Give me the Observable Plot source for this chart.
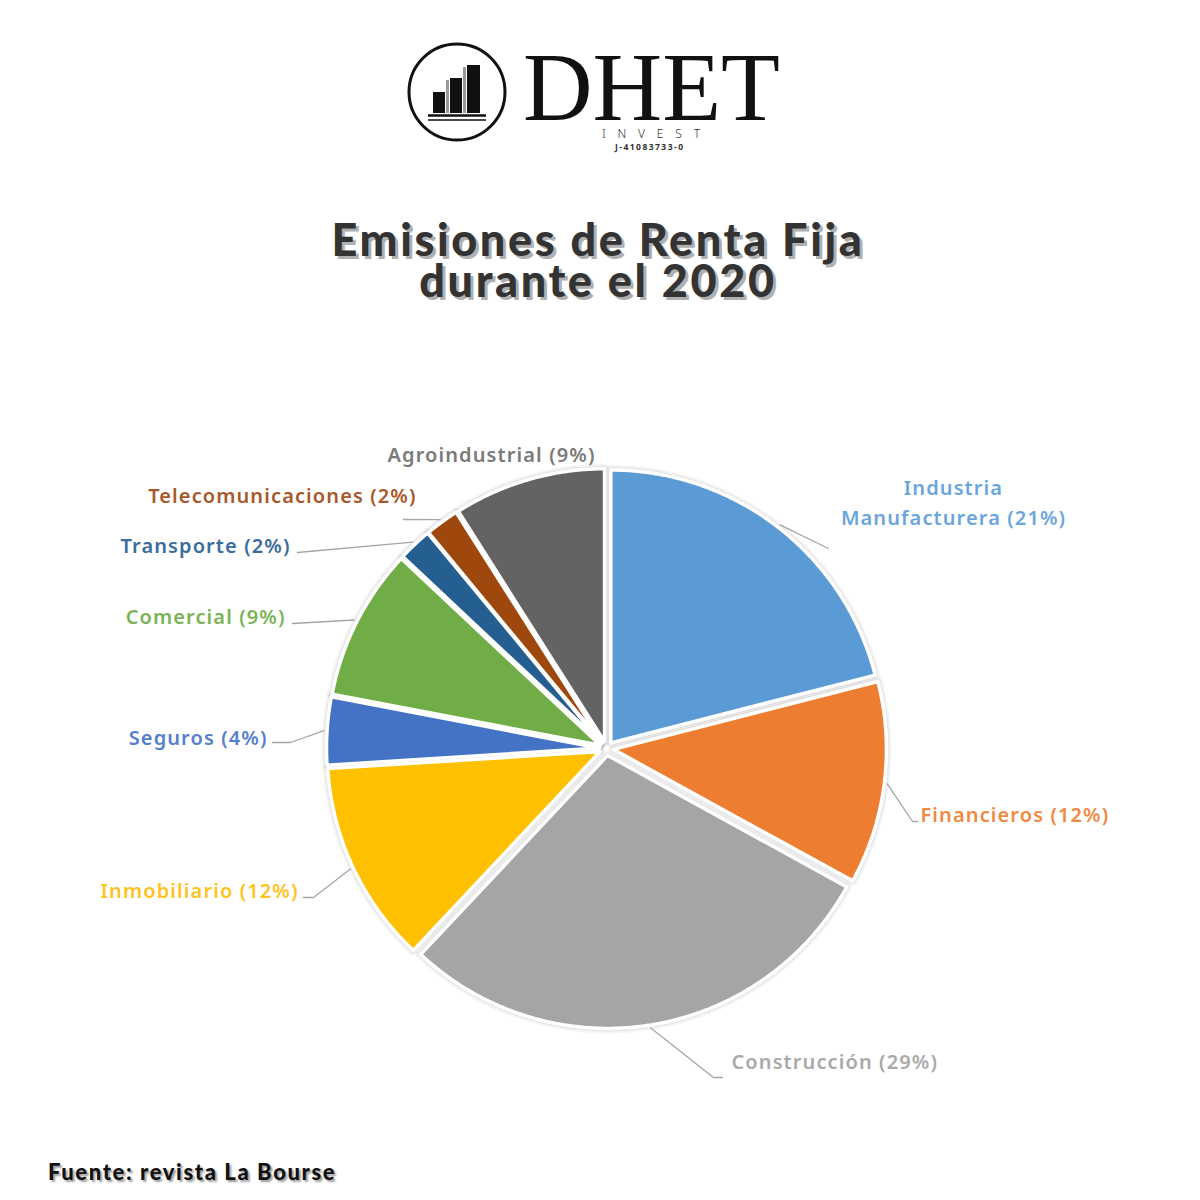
<!DOCTYPE html>
<html><head><meta charset="utf-8">
<script src="https://cdn.jsdelivr.net/npm/d3@7"></script>
<script src="https://cdn.jsdelivr.net/npm/@observablehq/plot@0.6"></script>
<style>
body{margin:0;background:#fff;}
#wrap{position:relative;width:1200px;height:1200px;overflow:hidden;background:#fff;}
#chart{position:absolute;left:0;top:0;}
#chart text{letter-spacing:1.1px;}
#logo{position:absolute;left:0;top:0;}
.title{position:absolute;left:0;width:1196px;top:219px;text-align:center;font-family:Lato;font-weight:900;font-size:45px;line-height:41px;letter-spacing:2.6px;color:#333;text-shadow:3px 3px 0 #b0b0b0;}
.foot{position:absolute;left:48px;top:1158px;font-family:Lato;font-weight:900;font-size:22px;letter-spacing:1.6px;color:#111;text-shadow:2px 2px 2px #9a9a9a;}
</style></head>
<body><div id="wrap">
<svg id="logo" width="1200" height="170">
  <circle cx="457" cy="92" r="48" fill="none" stroke="#111" stroke-width="3"/>
  <rect x="433" y="92" width="12" height="21" fill="#111"/>
  <rect x="446" y="80" width="3" height="33" fill="#9a9a9a"/>
  <rect x="450" y="78" width="12" height="35" fill="#111"/>
  <rect x="463" y="67" width="3" height="46" fill="#9a9a9a"/>
  <rect x="467" y="65" width="13" height="48" fill="#111"/>
  <line x1="428" x2="486" y1="115.5" y2="115.5" stroke="#111" stroke-width="2.5"/>
  <line x1="428" x2="486" y1="120" y2="120" stroke="#111" stroke-width="1.5"/>
  <text x="523" y="120" font-family="Liberation Serif" font-size="98" textLength="257" lengthAdjust="spacingAndGlyphs" fill="#111">DHET</text>
  <text x="651" y="138" text-anchor="middle" font-family="Noto Sans" font-weight="300" font-size="12" textLength="98" lengthAdjust="spacing" fill="#333">INVEST</text>
  <text x="649" y="150" text-anchor="middle" font-family="Noto Sans" font-weight="700" font-size="8.5" textLength="68" fill="#333">J-41083733-0</text>
</svg>
<div class="title">Emisiones de Renta Fija<br>durante el 2020</div>
<div id="chart"></div>
<div class="foot">Fuente: revista La Bourse</div>
</div>
<script>
// ---- data ----
const categories = ["Industria Manufacturera","Financieros","Construcción","Inmobiliario","Seguros","Comercial","Transporte","Telecomunicaciones","Agroindustrial"];
const shares = [21, 12, 29, 12, 4, 9, 2, 2, 9];
const labelTexts = ["Industria\nManufacturera (21%)","Financieros (12%)","Construcción (29%)","Inmobiliario (12%)","Seguros (4%)","Comercial (9%)","Transporte (2%)","Telecomunicaciones (2%)","Agroindustrial (9%)"];
const sliceColors = ["#5B9BD5","#ED7D31","#A5A5A5","#FFC000","#4472C4","#70AD47","#255E91","#9E480E","#636363"];
const labelColors = ["#6aa5dc","#f08a42","#a9a9a9","#ffc31f","#5580cc","#7bb356","#3a6d9c","#a9582a","#7a7a7a"];

// ---- layout ----
const cx = 606, cy = 748, R = 273, explode = 7;
const labelLayout = [
  {x:953, y:500, anchor:"middle", tail:[[828,548]]},
  {x:920, y:812, anchor:"start", tail:[[912,821],[917,821]]},
  {x:731, y:1059, anchor:"start", tail:[[713,1077],[722,1077]]},
  {x:298, y:888, anchor:"end", tail:[[313,897],[303,897]]},
  {x:267, y:735, anchor:"end", tail:[[290,742],[272,742]]},
  {x:285, y:614, anchor:"end", tail:[[292,623]]},
  {x:290, y:543, anchor:"end", tail:[[297,552]]},
  {x:416, y:493, anchor:"end", tail:[[403,519]]},
  {x:491, y:452, anchor:"middle", tail:null}
];

const arcs = d3.pie().sort(null).value(d => d)(shares);
const pt = (a, r, ox=0, oy=0) => ({x: cx + ox + r*Math.sin(a), y: cy + oy - r*Math.cos(a)});

const slicePts = [];
arcs.forEach((a, i) => {
  const mid = (a.startAngle + a.endAngle)/2;
  const ox = explode*Math.sin(mid), oy = -explode*Math.cos(mid);
  const push = p => slicePts.push({cat: categories[i], color: sliceColors[i], x: p.x, y: p.y});
  push(pt(0,0,ox,oy));
  const n = Math.max(4, Math.ceil((a.endAngle - a.startAngle)/(Math.PI/360)));
  for (let k=0;k<=n;k++) push(pt(a.startAngle + (a.endAngle-a.startAngle)*k/n, R, ox, oy));
  push(pt(0,0,ox,oy));
});

const leaders = [];
arcs.forEach((a, i) => {
  const L = labelLayout[i];
  if (!L.tail) return;
  const mid = (a.startAngle + a.endAngle)/2;
  const s = pt(mid, R + explode + 3);
  leaders.push({cat: categories[i], x: s.x, y: s.y});
  L.tail.forEach(([x,y]) => leaders.push({cat: categories[i], x, y}));
});

const labels = categories.map((c,i) => ({cat:c, text: labelTexts[i], color: labelColors[i], x: labelLayout[i].x, y: labelLayout[i].y, anchor: labelLayout[i].anchor}));

const textOpts = {x:"x", y:"y", text:"text", fill:"color", fontSize:20, fontWeight:600, fontFamily:"Noto Sans", lineHeight:1.5};

const plot = Plot.plot({
  width:1200, height:1200, margin:0,
  style:{background:"transparent", overflow:"visible"},
  x:{domain:[0,1200], range:[0,1200], axis:null},
  y:{domain:[0,1200], range:[0,1200], axis:null},
  color:{type:"identity"},
  marks:[
    // soft shadow underlay
    Plot.line(slicePts, {x:"x", y:"y", z:"cat", fill:"none", stroke:"#000", strokeOpacity:0.04, strokeWidth:10, strokeLinejoin:"round"}),
    Plot.line(slicePts, {x:"x", y:"y", z:"cat", fill:"none", stroke:"#000", strokeOpacity:0.06, strokeWidth:6, strokeLinejoin:"round"}),
    // slices
    Plot.line(slicePts, {x:"x", y:"y", z:"cat", fill:"color", stroke:"white", strokeWidth:3.5, strokeLinejoin:"round"}),
    Plot.line(leaders, {x:"x", y:"y", z:"cat", stroke:"#a6a6a6", strokeWidth:1.3}),
    Plot.text(labels.filter(d=>d.anchor==="start"), {...textOpts, textAnchor:"start"}),
    Plot.text(labels.filter(d=>d.anchor==="middle"), {...textOpts, textAnchor:"middle"}),
    Plot.text(labels.filter(d=>d.anchor==="end"), {...textOpts, textAnchor:"end"})
  ]
});
document.getElementById("chart").appendChild(plot);
</script>
</body></html>
